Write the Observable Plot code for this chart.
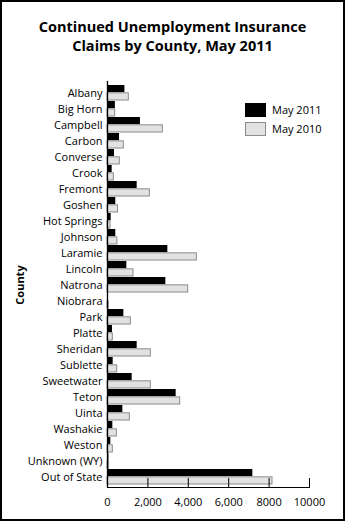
<!DOCTYPE html>
<html>
<head>
<meta charset="utf-8">
<script src="https://cdn.jsdelivr.net/npm/d3@7"></script>
<script src="https://cdn.jsdelivr.net/npm/@observablehq/plot@0.6"></script>
<style>
  html, body { margin: 0; padding: 0; background: #fff; }
  body { position: relative; width: 345px; height: 521px; overflow: hidden; font-family: "Open Sans", sans-serif; }
  #frame { position: absolute; left: 0; top: 0; width: 345px; height: 521px; box-sizing: border-box; border: 2px solid #000; pointer-events: none; }
  #title { position: absolute; left: 0; top: 17px; width: 345px; text-align: center; font-weight: bold; font-size: 14.5px; line-height: 19px; color: #000; }
  #chart { position: absolute; left: 0; top: 62px; }
  #legend { position: absolute; left: 245px; top: 100px; font-size: 11px; color: #000; }
  .item { display: flex; align-items: center; height: 19px; }
  .sw { width: 21px; height: 14px; box-sizing: border-box; margin-right: 6px; }
</style>
</head>
<body>
<div id="title">Continued Unemployment Insurance<br>Claims by County, May 2011</div>
<div id="chart"></div>
<div id="legend"></div>
<div id="frame"></div>
<script>
const counties = ["Albany","Big Horn","Campbell","Carbon","Converse","Crook","Fremont","Goshen","Hot Springs","Johnson","Laramie","Lincoln","Natrona","Niobrara","Park","Platte","Sheridan","Sublette","Sweetwater","Teton","Uinta","Washakie","Weston","Unknown (WY)","Out of State"];
const may2011 = [860, 390, 1630, 594, 347, 231, 1469, 410, 180, 410, 2987, 957, 2888, 30, 809, 248, 1469, 281, 1221, 3399, 759, 264, 165, 70, 7195];
const may2010 = [1056, 380, 2740, 809, 611, 314, 2096, 520, 150, 490, 4422, 1287, 3993, 60, 1155, 264, 2145, 479, 2145, 3597, 1106, 462, 264, 80, 8168];
const seriesNames = ["May 2011", "May 2010"];
const seriesColors = ["#000000", "#e2e2e2"];
const xTicks = [0, 2000, 4000, 6000, 8000, 10000];
const xTickLabels = ["0", "2,000", "4,000", "6,000", "8000", "10000"];

const rows2011 = counties.map((c, i) => ({county: c, value: may2011[i]}));
const rows2010 = counties.map((c, i) => ({county: c, value: may2010[i]}));

const W = 345, H = 459, mt = 19, mb = 33, ml = 107, mr = 36;
const plotH = H - mt - mb;
const step = plotH / counties.length;
const half = step / 2;

const chart = Plot.plot({
  width: W,
  height: H,
  marginTop: mt,
  marginBottom: mb,
  marginLeft: ml,
  marginRight: mr,
  style: {fontFamily: "'Open Sans', sans-serif", fontSize: "11px", color: "#000", background: "transparent"},
  x: {domain: [0, 10000], axis: null},
  y: {domain: counties, padding: 0.04, axis: null},
  marks: [
    Plot.barX(rows2011, {y: "county", x: "value", fill: seriesColors[0], insetBottom: half - 0.3}),
    Plot.barX(rows2010, {y: "county", x: "value", fill: seriesColors[1], stroke: "#8a8a8a", strokeWidth: 1, insetTop: half - 0.3}),
    Plot.axisY({tickSize: 0, tickPadding: 5, fontSize: 11, label: null}),
    Plot.axisX(xTicks, {tickSize: 0, tickPadding: 10, tickFormat: (d) => xTickLabels[xTicks.indexOf(d)], fontSize: 11, label: null}),
    Plot.ruleX(xTicks.slice(1), {insetTop: plotH - 10, stroke: "#000"}),
    Plot.ruleX([0], {stroke: "#000", strokeWidth: 1.3}),
    Plot.barX([0], {x1: () => 0, x2: () => 10000, fill: "#000", insetTop: plotH - 1}),
    Plot.text(["County"], {frameAnchor: "left", text: (d) => d, rotate: -90, textAnchor: "middle", dx: -87, fontWeight: "bold", fontSize: 11})
  ]
});
document.getElementById("chart").appendChild(chart);

const legend = document.getElementById("legend");
seriesNames.forEach((name, i) => {
  const item = document.createElement("div");
  item.className = "item";
  const sw = document.createElement("div");
  sw.className = "sw";
  sw.style.background = seriesColors[i];
  sw.style.border = i === 0 ? "1px solid #000" : "1px solid #8a8a8a";
  const label = document.createElement("span");
  label.textContent = name;
  item.appendChild(sw);
  item.appendChild(label);
  legend.appendChild(item);
});
</script>
</body>
</html>
